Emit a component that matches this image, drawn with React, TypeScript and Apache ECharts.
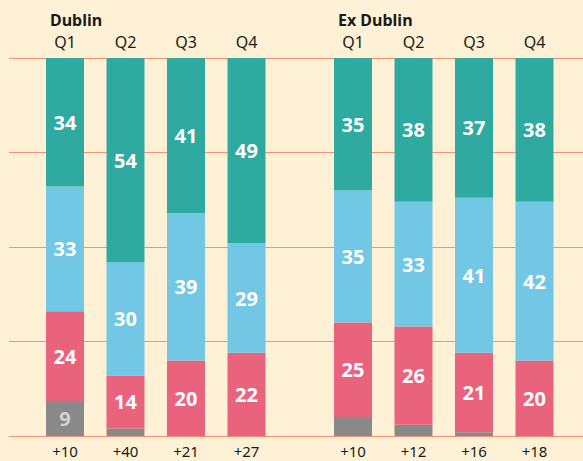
import React, { useEffect, useRef } from "react";
import * as echarts from "echarts";

const quarters = ["Q1", "Q2", "Q3", "Q4"];
const groups = ["Dublin", "Ex Dublin"];
const grayVals = [[9, 2, 0, 0], [5, 3, 1, 0]];
const pinkVals = [[24, 14, 20, 22], [25, 26, 21, 20]];
const blueVals = [[33, 30, 39, 29], [35, 33, 41, 42]];
const tealVals = [[34, 54, 41, 49], [35, 38, 37, 38]];
const netLabels = [["+10", "+40", "+21", "+27"], ["+10", "+12", "+16", "+18"]];

const FONT = "Noto Sans";
const BG = "#fff1d6";
const GRID_COLOR = "#f2907a";

export default function App() {
  const ref = useRef<HTMLDivElement>(null);
  useEffect(() => {
    const chart = echarts.init(ref.current!, undefined, { renderer: "svg" });
    const top = 58;
    const bottom = 461 - 436;
    const grids: any[] = [
      { left: 9, right: 0, top, bottom },
      { left: 34.75, width: 242, top, bottom },
      { left: 322.75, width: 242, top, bottom },
    ];
    const xAxes: any[] = [
      { gridIndex: 0, type: "value", min: 0, max: 1, show: false },
    ];
    const yAxes: any[] = [
      {
        gridIndex: 0,
        type: "value",
        min: 0,
        max: 100,
        interval: 25,
        axisLabel: { show: false },
        axisLine: { show: false },
        axisTick: { show: false },
        splitLine: { show: true, lineStyle: { color: GRID_COLOR, width: 1 } },
      },
    ];
    const series: any[] = [];
    const segs = [
      { vals: grayVals, color: "#898989", labelColor: "#d2d2d2" },
      { vals: pinkVals, color: "#ea637d", labelColor: "#ffffff" },
      { vals: blueVals, color: "#72c7e5", labelColor: "#ffffff" },
      { vals: tealVals, color: "#2eaaa0", labelColor: "#ffffff" },
    ];
    groups.forEach((g, gi) => {
      const gIdx = gi + 1;
      xAxes.push({
        gridIndex: gIdx,
        type: "category",
        position: "top",
        data: quarters,
        axisLine: { show: false },
        axisTick: { show: false },
        axisLabel: { color: "#1a1a1a", fontFamily: FONT, fontSize: 16, margin: 8 },
      });
      xAxes.push({
        gridIndex: gIdx,
        type: "category",
        position: "bottom",
        data: netLabels[gi],
        axisLine: { show: false },
        axisTick: { show: false },
        axisLabel: {
          color: "#1a1a1a",
          fontFamily: FONT,
          fontSize: 15,
          lineHeight: 15,
          margin: 7,
        },
      });
      yAxes.push({
        gridIndex: gIdx,
        type: "value",
        min: 0,
        max: 100,
        show: false,
      });
      segs.forEach((s) => {
        series.push({
          type: "bar",
          xAxisIndex: gi * 2 + 1,
          yAxisIndex: gIdx,
          stack: "g" + gi,
          barWidth: 38,
          data: s.vals[gi],
          itemStyle: { color: s.color },
          label: {
            show: true,
            position: "inside",
            color: s.labelColor,
            fontFamily: FONT,
            fontSize: 20,
            fontWeight: "bold",
            formatter: (p: any) => (p.value >= 8 ? String(p.value) : ""),
          },
        });
      });
    });
    chart.setOption({
      animation: false,
      backgroundColor: BG,
      title: [
        {
          text: groups[0],
          left: 45,
          top: 7,
          textStyle: { fontFamily: FONT, fontSize: 16, fontWeight: "bold", color: "#1a1a1a" },
        },
        {
          text: groups[1],
          left: 333,
          top: 7,
          textStyle: { fontFamily: FONT, fontSize: 16, fontWeight: "bold", color: "#1a1a1a" },
        },
      ],
      grid: grids,
      xAxis: xAxes,
      yAxis: yAxes,
      series,
    });
    return () => chart.dispose();
  }, []);
  return (
    <div
      ref={ref}
      style={{ position: "fixed", left: 0, top: 0, width: 583, height: 461 }}
    />
  );
}
